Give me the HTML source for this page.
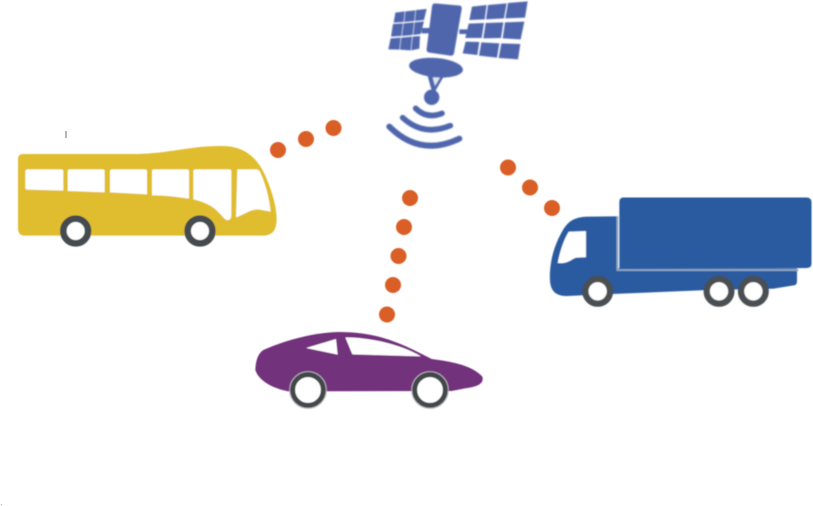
<!DOCTYPE html>
<html><head><meta charset="utf-8"><title>Connected vehicles</title>
<style>html,body{margin:0;padding:0;background:#fff;width:813px;height:506px;overflow:hidden}svg{display:block}</style>
</head><body>
<svg width="813" height="506" viewBox="0 0 813 506" xmlns="http://www.w3.org/2000/svg">
<defs>
<filter id="b" x="-5%" y="-5%" width="110%" height="110%"><feGaussianBlur stdDeviation="0.6"/></filter>
<filter id="s" x="-5%" y="-5%" width="110%" height="110%"><feGaussianBlur stdDeviation="0.85"/></filter>
</defs>
<rect width="813" height="506" fill="#fff"/>
<!-- Satellite -->
<g filter="url(#s)">
<g transform="translate(370,0) scale(.33333)" fill="#4f66ad">
<path d="M195 10 L270 17 Q276 18 275 28 L252 160 Q250 168 240 167 L178 158 Q168 156 170 146 L186 20 Q187 10 195 10Z"/>
<path d="M155 84H180V100H155ZM268 88H305V102H268Z"/>
<g>
<path d="M76 38L104 34L101 66L71 68Z"/><path d="M106 34L136 31L133 63L103 66Z"/><path d="M138 30L170 27L162 60L135 63Z"/>
<path d="M69 72L99 70L94 108L63 110Z"/><path d="M101 70L132 67L128 105L96 108Z"/><path d="M134 67L162 64L152 102L130 105Z"/>
<path d="M62 115L92 113L88 149L55 148Z"/><path d="M94 113L126 110L122 151L90 149Z"/><path d="M128 110L150 108L148 146L124 151Z"/>
</g>
<g>
<path d="M306 20L350 15L344 58L298 60Z"/><path d="M354 15L410 10L402 55L348 58Z"/><path d="M414 9L473 4L465 53L406 55Z"/>
<path d="M296 71L342 69L335 114L286 114Z"/><path d="M347 69L400 67L393 114L340 115Z"/><path d="M405 67L463 65L452 118L398 115Z"/>
<path d="M287 125L328 126L322 165L278 160Z"/><path d="M334 127L388 130L381 173L327 167Z"/><path d="M394 130L451 132L444 178L386 174Z"/>
</g>
<ellipse cx="198" cy="203" rx="81" ry="29" transform="rotate(5 198 203)"/>
<path d="M172 225L222 228L195 275L186 275Z"/>
<path d="M188 232L210 233L195 258Z" fill="#dfe4ef"/>
<circle cx="185" cy="292" r="23"/>
<g fill="none" stroke="#4f66ad" stroke-linecap="round">
<path d="M137 325Q170 358 216 340" stroke-width="17"/>
<path d="M98 353Q160 410 241 377" stroke-width="17"/>
<path d="M58 380Q150 472 268 416" stroke-width="18"/>
</g>
</g>
</g>
<g filter="url(#b)">
<!-- Bus -->
<g transform="translate(10,120) scale(.33333)">
<path d="M40 102L380 102C480 100 540 78 630 78C700 76 740 110 765 165C785 210 800 260 800 300C798 335 785 347 755 347L45 347C30 347 24 338 24 325L24 118C24 106 30 102 40 102Z" fill="#e0bd2d"/>
<g fill="#fff">
<path d="M52 148H154Q160 148 160 154V212L52 209Q46 209 46 203V154Q46 148 52 148Z"/>
<path d="M179 148H278Q284 148 284 154V217L173 213V154Q173 148 179 148Z"/>
<path d="M306 148H405Q411 148 411 154V223L300 217V154Q300 148 306 148Z"/>
<path d="M432 148H531Q537 148 537 154V236C500 230 460 226 426 226V154Q426 148 432 148Z"/>
<path d="M556 148H658Q664 148 664 154V290Q660 303 650 300C630 290 625 255 550 238V154Q550 148 556 148Z"/>
<path d="M682 148H738Q748 148 752 160C770 200 778 240 782 275L745 268C720 268 700 285 678 292Z"/>
</g>
<g fill="#fff" stroke="#454b50" stroke-width="20"><circle cx="197" cy="333" r="37"/><circle cx="570" cy="333" r="37"/></g>
</g>
<!-- Truck -->
<g transform="translate(540,190) scale(.33333)">
<path d="M232 79L140 80C100 82 85 95 70 118C45 160 28 210 30 270C31 300 45 318 80 318L125 316L500 300L700 296L762 286Q771 285 771 272V235L232 235Z" fill="#2c5aa0"/>
<path d="M232 79V240H775" fill="none" stroke="#8fa9c4" stroke-width="6"/>
<path d="M250 23H800Q815 23 815 38V220Q815 234 800 234L238 236V35Q238 23 250 23Z" fill="#2c5aa0"/>
<path d="M86 125L138 123V202L108 203C90 210 85 222 53 219C58 190 70 150 86 125Z" fill="#fff"/>
<g fill="#fff" stroke="#4a4f52" stroke-width="19"><circle cx="173" cy="304" r="37"/><circle cx="537" cy="304" r="37"/><circle cx="640" cy="304" r="37"/></g>
</g>
<!-- Car -->
<g transform="translate(245,320) scale(.33333)">
<path d="M55 90C100 70 190 38 280 36C400 36 470 70 560 117C620 125 680 135 712 170C718 190 700 200 660 205L620 213L130 214C80 205 40 180 31 150C32 120 40 100 55 90Z" fill="#72307b"/>
<path d="M183 84L273 57L278 104Z" fill="#fff"/>
<path d="M301 52C380 52 470 75 528 109L322 103Z" fill="#fff"/>
<g fill="#fff" stroke="#43464a" stroke-width="15"><circle cx="189" cy="210" r="46"/><circle cx="555" cy="210" r="46"/></g>
<g fill="none" stroke="#b6b3ba" stroke-width="3"><circle cx="189" cy="210" r="55"/><circle cx="555" cy="210" r="55"/></g>
</g>
<!-- Dots -->
<g fill="#d95f26">
<circle cx="278" cy="150" r="8"/><circle cx="306" cy="139" r="8"/><circle cx="333.500" cy="128" r="8"/>
<circle cx="410" cy="198" r="8"/><circle cx="404" cy="227" r="8"/><circle cx="398.500" cy="256" r="8"/><circle cx="393" cy="285" r="8"/><circle cx="387" cy="314.500" r="8"/>
<circle cx="508" cy="167.500" r="8"/><circle cx="530" cy="187.500" r="8"/><circle cx="552" cy="208" r="8"/>
</g>
</g>
<rect x="65.500" y="131" width="1" height="7" fill="#5f7480"/>
<rect x="1" y="504" width="1" height="1" fill="#aaa"/>
</svg>
</body></html>
